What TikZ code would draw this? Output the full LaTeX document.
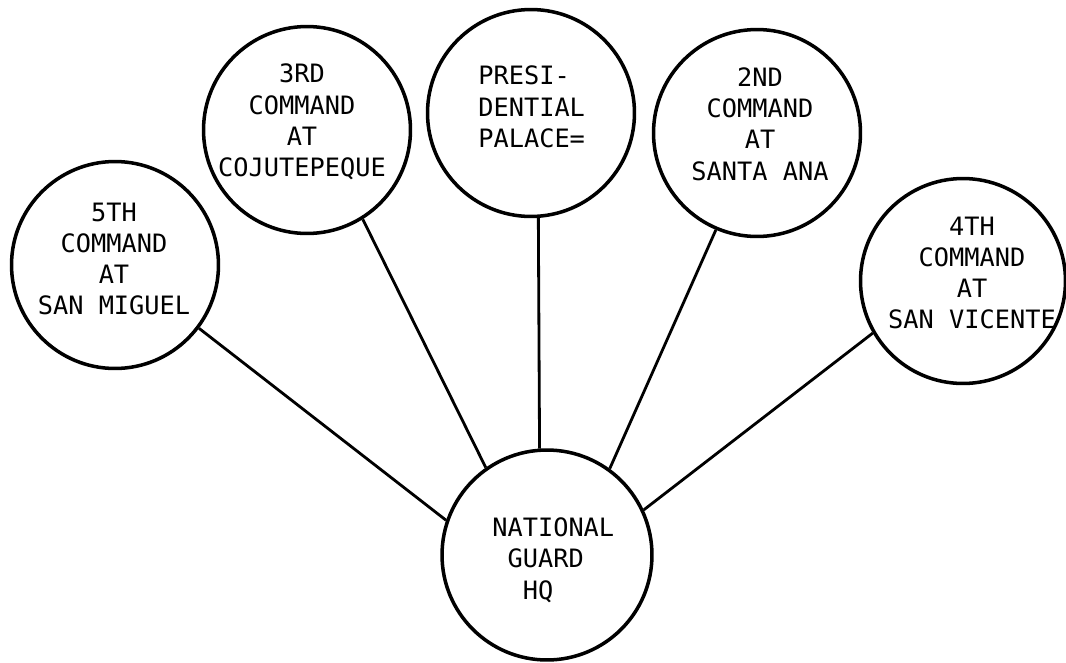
\documentclass[tikz,border=0pt]{standalone}
\usepackage{fontspec}
\newfontfamily\typewr{DejaVu Sans Mono}
\begin{document}
\begin{tikzpicture}[x=0.02cm,y=-0.02cm,
  unit/.style={circle,draw,line width=2pt,minimum size=4.14cm,inner sep=0pt},
  lbl/.style={font=\typewr\fontsize{14.4}{17.8}\selectfont,align=center,inner sep=0pt},
  link/.style={line width=1.6pt}]
\useasboundingbox (0,0) rectangle (1066,663);
\node[unit] (c5) at (115,265) {};
\node[unit] (c3) at (307,130) {};
\node[unit] (cp) at (531,113) {};
\node[unit] (c2) at (757,133) {};
\node[unit,minimum size=4.1cm] (c4) at (963,281) {};
\node[unit,minimum size=4.2cm] (hq) at (547,555) {};
\node[lbl] (t5) at (114,259) {5TH\\COMMAND\\AT\\SAN MIGUEL};
\node[lbl] (t3) at (302,122) {3RD\\COMMAND\\AT\\COJUTEPEQUE};
\node[lbl,align=left,anchor=west] (tp) at (478,107) {PRESI-\\DENTIAL\\PALACE=};
\node[lbl] (t2) at (760,124) {2ND\\COMMAND\\AT\\SANTA ANA};
\node[lbl] (t4) at (972,273) {4TH\\COMMAND\\AT\\SAN VICENTE};
\node[lbl,align=left,anchor=west] (th) at (492,560) {NATIONAL\\\ GUARD\\\ \ HQ};
\draw[link] (c5.-37) -- (hq.161);
\draw[link] (c3.-58) -- (hq.125);
\draw[link] (cp.-86) -- (hq.94);
\draw[link] (c2.-113) -- (hq.54);
\draw[link] (c4.210) -- (hq.25);
\end{tikzpicture}
\end{document}
